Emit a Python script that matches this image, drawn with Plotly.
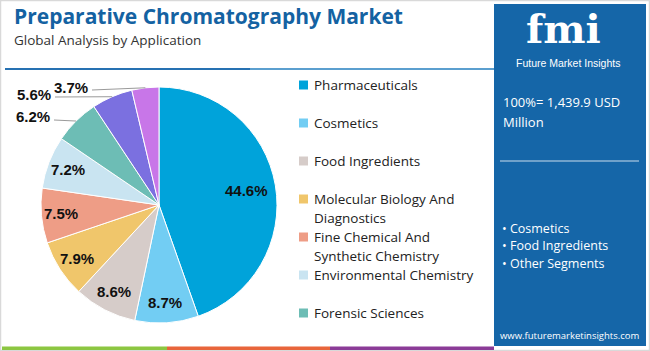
import math
import textwrap
import plotly.graph_objects as go

W, H = 650, 351

# ---------------- data ----------------
categories = [
    "Pharmaceuticals",
    "Cosmetics",
    "Food Ingredients",
    "Molecular Biology And Diagnostics",
    "Fine Chemical And Synthetic Chemistry",
    "Environmental Chemistry",
    "Forensic Sciences",
    "Segment 8",
    "Segment 9",
]
shares = [44.6, 8.7, 8.6, 7.9, 7.5, 7.2, 6.2, 5.6, 3.7]
colors = ["#00a3da", "#72cdf3", "#d6ccc9", "#f0c66b", "#ee9d86",
          "#c9e4f1", "#6dbdb5", "#7b70e0", "#c876e8"]
legend_count = 7
title = "Preparative Chromatography Market"
subtitle = "Global Analysis by Application"
total_text = ["100%= 1,439.9 USD", "Million"]
bullets = ["Cosmetics", "Food Ingredients", "Other Segments"]
website = "www.futuremarketinsights.com"

# ---------------- layout constants ----------------
CX, CY, R = 159, 205, 118
inside_n = 6
outside_label_pos = [(52, 117), (53, 94), (90, 87)]   # label right end, px
PANEL = (494, 4, 646, 346)
BLUE = "#1566a8"
FONT = "Open Sans"
LABEL_FONT = dict(family="Liberation Sans", size=15, color="#111111")


def px(x):
    return x / W


def py(y):
    return 1 - y / H


fig = go.Figure()
fig.add_trace(go.Pie(
    labels=categories,
    values=shares,
    textinfo="none",
    marker=dict(colors=colors, line=dict(color="white", width=1)),
    sort=False,
    direction="clockwise",
    rotation=0,
    hole=0,
    showlegend=False,
    domain=dict(x=[px(CX - R), px(CX + R)], y=[py(CY + R), py(CY - R)]),
))

shapes = []
annotations = []

total = sum(shares)
cum = 0.0
k = 0
for i, v in enumerate(shares):
    mid = (cum + v / 2) / total
    cum += v
    th = 2 * math.pi * mid
    if i < inside_n:
        f = 0.75 if v > 20 else 0.83
        tx = CX + f * R * math.sin(th)
        ty = CY - f * R * math.cos(th)
        annotations.append(dict(
            x=px(tx), y=py(ty), xref="paper", yref="paper", xanchor="center", yanchor="middle",
            text=f"<b>{v:.1f}%</b>", showarrow=False, font=LABEL_FONT))
    else:
        ex = CX + R * math.sin(th)
        ey = CY - R * math.cos(th)
        lx, ly = outside_label_pos[k]
        k += 1
        annotations.append(dict(
            x=px(lx), y=py(ly), xref="paper", yref="paper", xanchor="right", yanchor="middle",
            text=f"<b>{v:.1f}%</b>", showarrow=False, font=LABEL_FONT))
        shapes.append(dict(type="line", xref="paper", yref="paper",
                           x0=px(lx + 2), y0=py(ly + 3), x1=px(ex), y1=py(ey),
                           line=dict(color="#9a9a9a", width=1)))

# legend (manual, first entries)
for i in range(legend_count):
    y0 = 85 + 38 * i
    shapes.append(dict(type="rect", xref="paper", yref="paper",
                       x0=px(299), x1=px(308), y0=py(y0 - 4.5), y1=py(y0 + 4.5),
                       fillcolor=colors[i], line=dict(width=0)))
    for j, line in enumerate(textwrap.wrap(categories[i], 24)):
        annotations.append(dict(
            x=px(312), y=py(y0 + 19 * j), xref="paper", yref="paper",
            xanchor="left", yanchor="middle", text=line, showarrow=False,
            font=dict(family=FONT, size=13.5, color="#222222")))

# titles
annotations.append(dict(x=px(12), y=py(16), xref="paper", yref="paper", xanchor="left",
                        yanchor="middle", text=f"<b>{title}</b>", showarrow=False,
                        font=dict(family=FONT, size=21, color="#1462a2")))
annotations.append(dict(x=px(12), y=py(40), xref="paper", yref="paper", xanchor="left",
                        yanchor="middle", text=subtitle, showarrow=False,
                        font=dict(family=FONT, size=13.5, color="#333333")))

# outer frame
shapes.append(dict(type="rect", xref="paper", yref="paper", x0=px(0.5), x1=px(649.5),
                   y0=py(350.5), y1=py(0.5), line=dict(color="#d9d9d9", width=1.5)))
# top rule
shapes.append(dict(type="line", xref="paper", yref="paper", x0=px(5), x1=px(250),
                   y0=py(69), y1=py(69), line=dict(color="#2671b2", width=2)))
shapes.append(dict(type="line", xref="paper", yref="paper", x0=px(250), x1=px(494),
                   y0=py(69), y1=py(69), line=dict(color="#5b9fcf", width=2)))
# bottom colour bars
for x0, x1, c in [(2, 167, "#8cc641"), (167, 330, "#e8653b"), (330, 494, "#8b3b97")]:
    shapes.append(dict(type="rect", xref="paper", yref="paper", x0=px(x0), x1=px(x1),
                       y0=py(350), y1=py(346.5), fillcolor=c, line=dict(width=0)))

# right panel
shapes.append(dict(type="rect", xref="paper", yref="paper", x0=px(PANEL[0]), x1=px(PANEL[2]),
                   y0=py(PANEL[3]), y1=py(PANEL[1]), fillcolor=BLUE, line=dict(width=0)))
annotations.append(dict(x=px(563), y=py(29), xref="paper", yref="paper", xanchor="center",
                        yanchor="middle", text="<b>fmi</b>", showarrow=False,
                        font=dict(family="DejaVu Serif", size=40, color="white")))
annotations.append(dict(x=px(568), y=py(63), xref="paper", yref="paper", xanchor="center",
                        yanchor="middle", text="Future Market Insights", showarrow=False,
                        font=dict(family="Liberation Sans", size=10.5, color="white")))
for j, t in enumerate(total_text):
    annotations.append(dict(x=px(501), y=py(102 + 20 * j), xref="paper", yref="paper",
                            xanchor="left", yanchor="middle", text=t, showarrow=False,
                            font=dict(family=FONT, size=13, color="white")))
shapes.append(dict(type="line", xref="paper", yref="paper", x0=px(500), x1=px(639),
                   y0=py(161), y1=py(161), line=dict(color="#c9dcec", width=1.2)))
for j, t in enumerate(bullets):
    annotations.append(dict(x=px(500), y=py(228 + 17.5 * j), xref="paper", yref="paper",
                            xanchor="left", yanchor="middle", text="• " + t, showarrow=False,
                            font=dict(family=FONT, size=12.5, color="white")))
annotations.append(dict(x=px(570), y=py(335), xref="paper", yref="paper", xanchor="center",
                        yanchor="middle", text=website, showarrow=False,
                        font=dict(family=FONT, size=9.5, color="white")))

fig.update_layout(
    width=W, height=H,
    margin=dict(l=0, r=0, t=0, b=0),
    paper_bgcolor="white", plot_bgcolor="white",
    shapes=shapes, annotations=annotations,
)
fig.write_html("out.html", config={"displayModeBar": False})
